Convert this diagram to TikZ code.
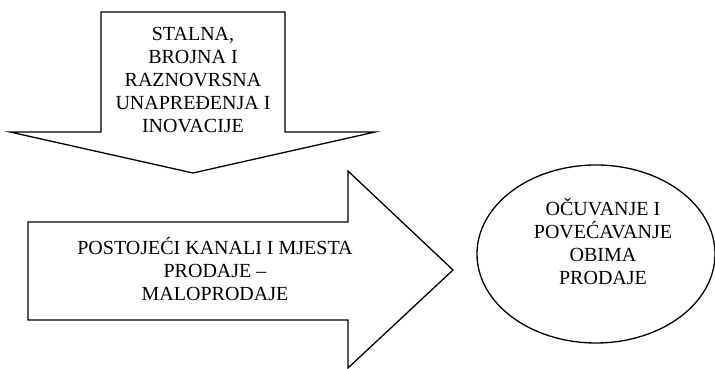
\documentclass[tikz,border=0pt]{standalone}
\usepackage{fontspec}
\setmainfont{Liberation Serif}
\tikzset{
  shapeline/.style={draw=black, line width=1.3pt, line join=miter, fill=white},
  label/.style={align=center, inner sep=0pt, font=\fontsize{20}{23}\selectfont}
}
\begin{document}
\begin{tikzpicture}[x=1pt,y=1pt]
\useasboundingbox (0,0) rectangle (715,369);
% down arrow
\draw[shapeline] (101,357) -- (285,357) -- (285,237) -- (375,237) -- (193,196) -- (10,237) -- (101,237) -- cycle;
% right arrow
\draw[shapeline] (28,147) -- (348,147) -- (348,198) -- (453,99) -- (348,1) -- (348,49) -- (28,49) -- cycle;
% ellipse
\draw[shapeline] (596,115) ellipse [x radius=119, y radius=89];
\node[label] (top) at (193,289) {STALNA,\\BROJNA I\\RAZNOVRSNA\\UNAPREĐENJA I\\INOVACIJE};
\node[label] (mid) at (215,100) {POSTOJEĆI KANALI I MJESTA\\PRODAJE –\\MALOPRODAJE};
\node[label] (goal) at (603,127) {OČUVANJE I\\POVEĆAVANJE\\OBIMA\\PRODAJE};
\end{tikzpicture}
\end{document}
